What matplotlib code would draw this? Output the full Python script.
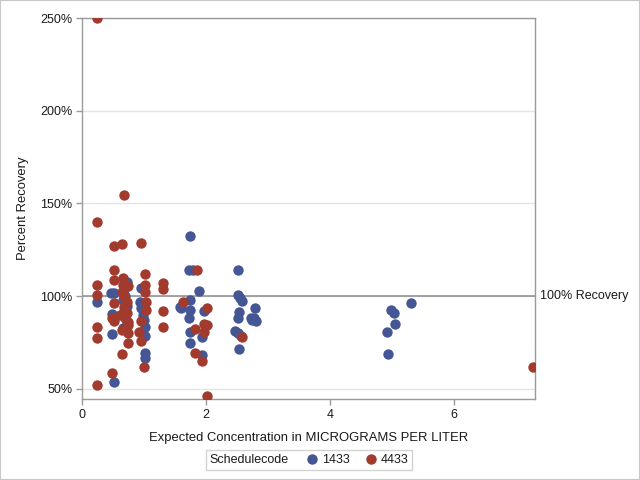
import matplotlib
matplotlib.use("Agg")
import matplotlib.pyplot as plt
from matplotlib.patches import Rectangle
from matplotlib.lines import Line2D
from matplotlib.offsetbox import HPacker

plt.rcParams['font.family'] = ['Liberation Sans', 'DejaVu Sans']

series_names = ["1433", "4433"]
colors = ["#445694", "#A23A2E"]

x_1433 = [0.25,
          0.47, 0.52, 0.48, 0.52, 0.48, 0.52,
          0.72, 0.68, 0.70, 0.66, 0.72, 0.68, 0.70, 0.72, 0.66,
          0.95, 0.94, 0.96, 0.98, 1.00, 1.01, 1.02, 1.02, 1.02,
          1.58,
          1.74, 1.73, 1.79, 1.88, 1.75, 1.60, 1.74, 1.73, 1.97, 1.74, 1.94, 1.75, 1.94,
          2.51, 2.51, 2.55, 2.58, 2.79, 2.53, 2.52, 2.72, 2.78, 2.80, 2.75, 2.47, 2.52, 2.56, 2.54,
          5.31, 4.98, 5.03, 5.05, 4.92, 4.94]
y_1433 = [97.0,
          101.8, 101.5, 90.3, 88.0, 79.6, 53.6,
          107.7, 104.0, 100.0, 98.0, 95.0, 92.0, 89.0, 86.0, 83.0,
          104.7, 97.0, 93.5, 89.8, 87.0, 83.5, 78.5, 69.2, 66.5,
          94.0,
          132.3, 114.3, 114.3, 102.7, 97.8, 93.4, 92.5, 88.0, 92.0, 80.8, 78.1, 74.6, 68.3,
          114.3, 100.5, 98.8, 97.3, 93.4, 91.6, 88.0, 88.2, 88.5, 86.5, 87.0, 81.4, 80.3, 78.5, 71.5,
          96.1, 92.8, 90.7, 85.3, 80.8, 68.8]

x_4433 = [0.25, 0.25, 0.25, 0.25, 0.25, 0.25, 0.25,
          0.52, 0.52, 0.52, 0.52, 0.48, 0.52, 0.48,
          0.67, 0.64, 0.66, 0.64, 0.65, 0.65, 0.75, 0.68, 0.72, 0.68, 0.72, 0.70, 0.74,
          0.75, 0.75, 0.75, 0.66, 0.62,
          0.96, 1.02, 1.02, 1.02, 1.03, 1.03, 0.96, 0.92, 0.96, 1.00,
          1.30, 1.30, 1.30, 1.30,
          1.85, 1.63, 2.02, 1.97, 2.02, 1.97, 1.83, 1.83, 1.93, 2.02,
          2.58, 7.28]
y_4433 = [250.0, 140.0, 106.0, 100.5, 83.2, 77.6, 52.0,
          126.9, 114.3, 109.0, 96.4, 88.0, 86.5, 58.4,
          154.8, 128.3, 109.8, 102.3, 82.0, 68.7, 105.4, 100.0, 97.0, 94.0, 91.0, 88.0, 86.0,
          84.4, 80.0, 75.0, 106.0, 90.0,
          128.9, 111.8, 106.0, 102.3, 97.0, 92.5, 86.7, 80.8, 76.0, 61.7,
          107.3, 103.8, 92.0, 83.2,
          114.3, 97.0, 93.7, 84.8, 84.4, 80.8, 82.3, 69.2, 65.0, 46.4,
          77.8, 61.8]

x_ticks = [0, 2, 4, 6]
y_ticks = [50, 100, 150, 200, 250]
y_tick_labels = ["50%", "100%", "150%", "200%", "250%"]
ref_value = 100
ref_label = "100% Recovery"

fig = plt.figure(figsize=(6.4, 4.8), dpi=100)
ax = fig.add_axes([82/640, 1 - 399/480, (535-82)/640, (399-18)/480])

grid_c = "#e4e4e4"
spine_c = "#9a9a9a"
text_c = "#1a1a1a"

for yt in y_ticks:
    ax.axhline(yt, color=grid_c, lw=1, zorder=0)
ax.axhline(ref_value, color="#8c8c8c", lw=1.1, zorder=1)

ms = 56
ax.scatter(x_1433, y_1433, s=ms, c=colors[0], linewidths=0, zorder=3)
ax.scatter(x_4433, y_4433, s=ms, c=colors[1], linewidths=0, zorder=4)

ax.set_xlim(0, 7.31)
ax.set_ylim(44.6, 250)
ax.set_xticks(x_ticks)
ax.set_xticklabels([str(t) for t in x_ticks])
ax.set_yticks(y_ticks)
ax.set_yticklabels(y_tick_labels)
ax.tick_params(direction="out", length=4, width=1, color=spine_c,
               labelsize=9, labelcolor=text_c, pad=3)
for sp in ax.spines.values():
    sp.set_color(spine_c)
    sp.set_linewidth(1)

ax.set_xlabel("Expected Concentration in MICROGRAMS PER LITER", fontsize=9.4,
              color=text_c, labelpad=8)
ax.set_ylabel("Percent Recovery", fontsize=9.4, color=text_c, labelpad=8)

ax.text(1.011, ref_value, ref_label, transform=ax.get_yaxis_transform(),
        ha="left", va="center", fontsize=9, color=text_c, clip_on=False)

handles = [Line2D([0], [0], marker="o", ls="", color=c, markersize=6.5) for c in colors]
leg = fig.legend(handles, series_names, loc="center", bbox_to_anchor=(309/640, 1 - 460/480),
                 ncol=2, frameon=True, fontsize=9, title="Schedulecode",
                 title_fontsize=9, handletextpad=0.3, columnspacing=1.2,
                 borderpad=0.3, handlelength=1.0, fancybox=False)
leg.get_frame().set_edgecolor("#c8c8c8")
leg.get_frame().set_linewidth(1)
for t in leg.get_texts():
    t.set_color(text_c)
leg.get_title().set_color(text_c)
title_box = leg._legend_title_box
body = leg._legend_handle_box
leg._legend_box._children = [HPacker(pad=0, sep=12, children=[title_box, body], align="center")]

fig.patches.append(Rectangle((0, 0), 1, 1, transform=fig.transFigure, fill=False,
                             edgecolor="#c8c8c8", linewidth=1.5))

fig.savefig("out.png", dpi=100)
